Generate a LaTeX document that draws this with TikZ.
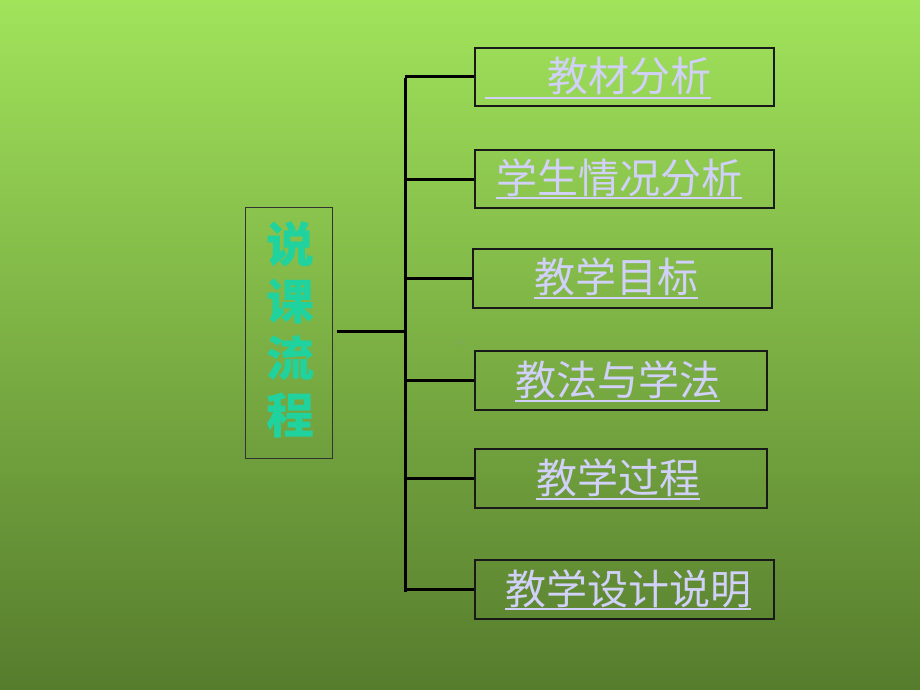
\documentclass[tikz,border=0pt]{standalone}
\usepackage{fontspec}
\newfontfamily\cjk{Noto Sans CJK SC}
\newfontfamily\cjkbold{Noto Sans CJK SC Black}
\definecolor{bgtop}{RGB}{161,227,91}
\definecolor{bgmid}{RGB}{136,196,74}
\definecolor{bgbot}{RGB}{86,124,45}
\definecolor{lav}{RGB}{208,208,248}
\definecolor{teal}{RGB}{32,210,158}
\definecolor{dot}{RGB}{124,172,82}
\tikzset{
  itembox/.style={draw=black!90, line width=1.4pt, rectangle, inner sep=0pt},
  itemtext/.style={font=\cjk\fontsize{41}{41}\selectfont, text=lav, inner sep=0pt, anchor=base west},
  uline/.style={draw=lav, line width=1.6pt},
  conn/.style={draw=black, line width=3pt},
}
\begin{document}
\begin{tikzpicture}[x=1pt,y=-1pt]
\shade[top color=bgtop, middle color=bgmid, bottom color=bgbot] (0,0) rectangle (920,690);
\useasboundingbox (0,0) rectangle (920,690);
% left box
\node[draw=black!80, line width=1pt, minimum width=87pt, minimum height=251pt, inner sep=0pt] (L) at (288.5,332.5) {};
\node[font=\cjkbold\fontsize{48}{57}\selectfont, text=teal, align=center, inner sep=0pt] (Lt) at (290,330) {说\\课\\流\\程};
% right boxes
\node[itembox, minimum width=299pt, minimum height=58pt] (b1) at (624.5,77) {};
\node[itembox, minimum width=299pt, minimum height=58pt] (b2) at (624.5,179) {};
\node[itembox, minimum width=299pt, minimum height=59pt] (b3) at (622.5,278.5) {};
\node[itembox, minimum width=292pt, minimum height=59pt] (b4) at (621,380.5) {};
\node[itembox, minimum width=292pt, minimum height=59pt] (b5) at (621,478.5) {};
\node[itembox, minimum width=299pt, minimum height=59pt] (b6) at (624.5,589.5) {};
% texts
\node[itemtext] (t1) at (485,92) {\hspace{62pt}教材分析};
\node[itemtext] (t2) at (496,193) {学生情况分析};
\node[itemtext] (t3) at (534,292) {教学目标};
\node[itemtext] (t4) at (515,395) {教法与学法};
\node[itemtext] (t5) at (536,493) {教学过程};
\node[itemtext] (t6) at (505,604) {教学设计说明};
\foreach \i/\y in {1/98,2/198,3/298,4/401,5/499,6/609}{
  \draw[uline] (t\i.west |- 0,\y) -- (t\i.east |- 0,\y);
}
% trunk
\coordinate (top) at (405,78);
\coordinate (bot) at (405,592);
\draw[conn] (top) -- (bot);
\coordinate (j) at (405,331);
\draw[conn] (L.east |- j) ++(4,0) -- (j);
\foreach \i in {1,...,6}{
  \draw[conn] (b\i.west) -- (b\i.west -| top);
}
% small mark
\fill[dot] (457,339) rectangle (463,345);
\end{tikzpicture}
\end{document}
